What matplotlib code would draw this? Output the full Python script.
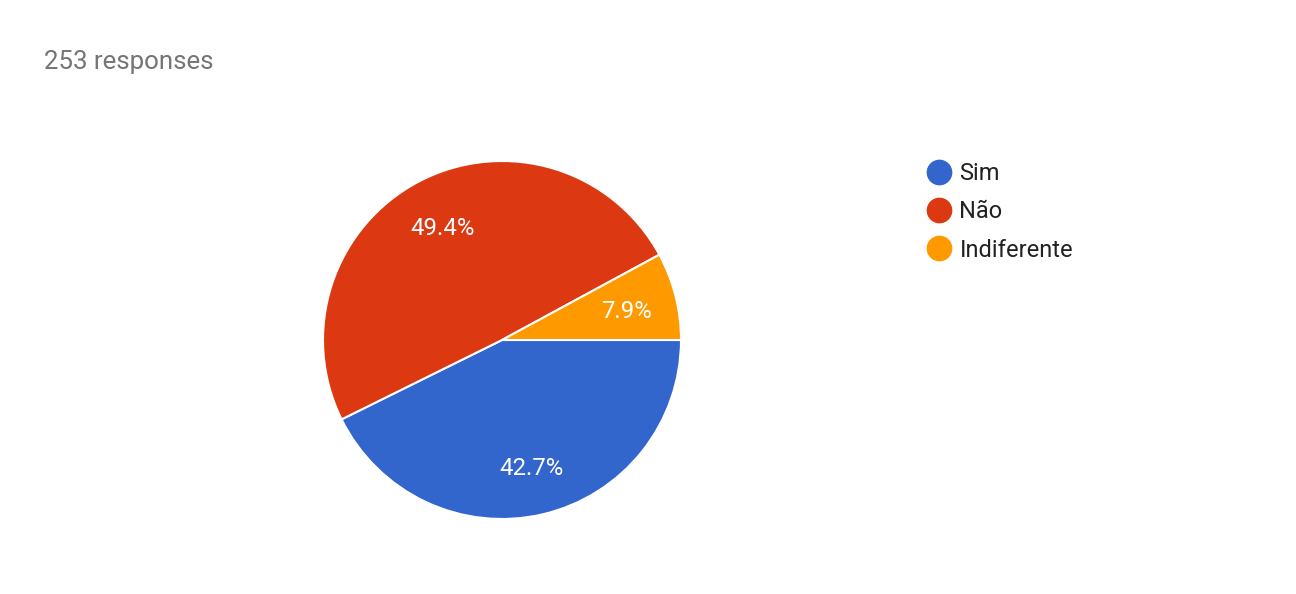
import matplotlib.pyplot as plt
from matplotlib.lines import Line2D

labels = ["Sim", "Não", "Indiferente"]
counts = [108, 125, 20]
colors = ["#3366CC", "#DC3912", "#FF9900"]
total = 253

plt.rcParams['font.family'] = ['Roboto', 'DejaVu Sans']

W, H = 1296, 594
fig = plt.figure(figsize=(W / 100, H / 100), dpi=100)

# pie: centre (502, 340) px, radius 179 px
cx, cy, r = 502, 340, 179
ax = fig.add_axes([(cx - r) / W, (H - cy - r) / H, 2 * r / W, 2 * r / H])
wedges, texts, autotexts = ax.pie(
    counts, colors=colors, startangle=0, counterclock=False,
    autopct='%1.1f%%', pctdistance=0.72, radius=1,
    wedgeprops=dict(edgecolor='white', linewidth=1.5),
    textprops=dict(color='white', fontsize=17.3))
for t in autotexts:
    x, y = t.get_position()
    t.set_position((x, y - 0.015))
ax.set_xlim(-1, 1)
ax.set_ylim(-1, 1)
ax.set_aspect('equal')
ax.axis('off')

fig.text(44 / W, 1 - 62 / H, f"{total} responses", fontsize=18.6,
         color='#757575', va='center', ha='left')

handles = [Line2D([], [], marker='o', linestyle='', markersize=17.5,
                  markerfacecolor=c, markeredgecolor=c) for c in colors]
fig.legend(handles, labels, loc='upper left',
           bbox_to_anchor=(925 / W, 1 - 162 / H), frameon=False,
           fontsize=17, labelcolor='#212121', handletextpad=0.28,
           labelspacing=0.65, handlelength=1.18, borderpad=0,
           borderaxespad=0)

fig.savefig("out.png", dpi=100)
